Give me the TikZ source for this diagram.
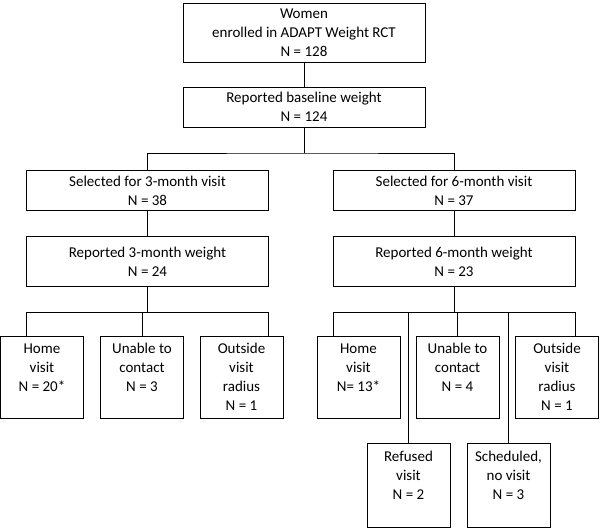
\documentclass[tikz,border=0pt]{standalone}
\usepackage{fontspec}
\setmainfont{Carlito}
\usepackage{tikz}
\usetikzlibrary{positioning}

\begin{document}
\begin{tikzpicture}[x=1pt, y=-1pt, line width=0.9pt,
	box/.style={draw, align=center, inner sep=0pt, outer sep=0pt, font=\fontsize{15pt}{19pt}\selectfont},
	wide/.style={box, minimum width=242pt, minimum height=40pt},
	small/.style={box, minimum width=83pt, minimum height=82pt}]
	\useasboundingbox (0,0) rectangle (600,528);

	\node (top) [box, minimum width=242pt, minimum height=59pt] at (304, 32.5) {Women\\enrolled in ADAPT Weight RCT\\N = 128};
	\node (base) [wide, below=25pt of top] {Reported baseline weight\\N = 124};

	\node (sel3) [wide] at (147.5, 190.5) {Selected for 3-month visit\\N = 38};
	\node (rep3) [wide, minimum height=50pt, below=26pt of sel3] {Reported 3-month weight\\N = 24};
	\node (sel6) [wide] at (454, 190.5) {Selected for 6-month visit\\N = 37};
	\node (rep6) [wide, minimum height=50pt, below=26pt of sel6] {Reported 6-month weight\\N = 23};

	% 3-month outcomes
	\node (l1) [small] at (42, 377) {Home\\visit\\N = 20*\\\mbox{}};
	\node (l2) [small] at (142, 377) {Unable to\\contact\\N = 3\\\mbox{}};
	\node (l3) [small] at (241.5, 377) {Outside\\visit\\radius\\N = 1};

	% 6-month outcomes
	\node (r1) [small] at (358.5, 377) {Home\\visit\\N= 13*\\\mbox{}};
	\node (r2) [small] at (457.5, 377) {Unable to\\contact\\N = 4\\\mbox{}};
	\node (r3) [small] at (557, 377) {Outside\\visit\\radius\\N = 1};
	\node (ref) [small, minimum height=84pt] at (408.5, 485) {Refused\\visit\\N = 2\\\mbox{}};
	\node (sch) [small, minimum height=84pt] at (508.5, 485) {Scheduled,\\no visit\\N = 3\\\mbox{}};

	\coordinate (j1) at (base.south |- 0,153);
	\coordinate (j2) at (0,312);

	\draw (top) -- (base);
	\draw (base) -- (j1);
	\draw (sel3.north) |- (j1) -| (sel6.north);
	\draw (sel3) -- (rep3);
	\draw (sel6) -- (rep6);

	\draw (rep3.south) -- (rep3.south |- j2);
	\draw (rep3.south west |- l1.north) -- (rep3.south west |- j2) -- (rep3.south east |- j2) -- (rep3.south east |- l3.north);
	\draw (l2.north) -- (l2.north |- j2);

	\draw (rep6.south) -- (rep6.south |- j2);
	\draw (rep6.south west |- r1.north) -- (rep6.south west |- j2) -- (rep6.south east |- j2) -- (rep6.south east |- r3.north);
	\foreach \b in {r2, ref, sch}
		\draw (\b.north) -- (\b.north |- j2);
\end{tikzpicture}
\end{document}
